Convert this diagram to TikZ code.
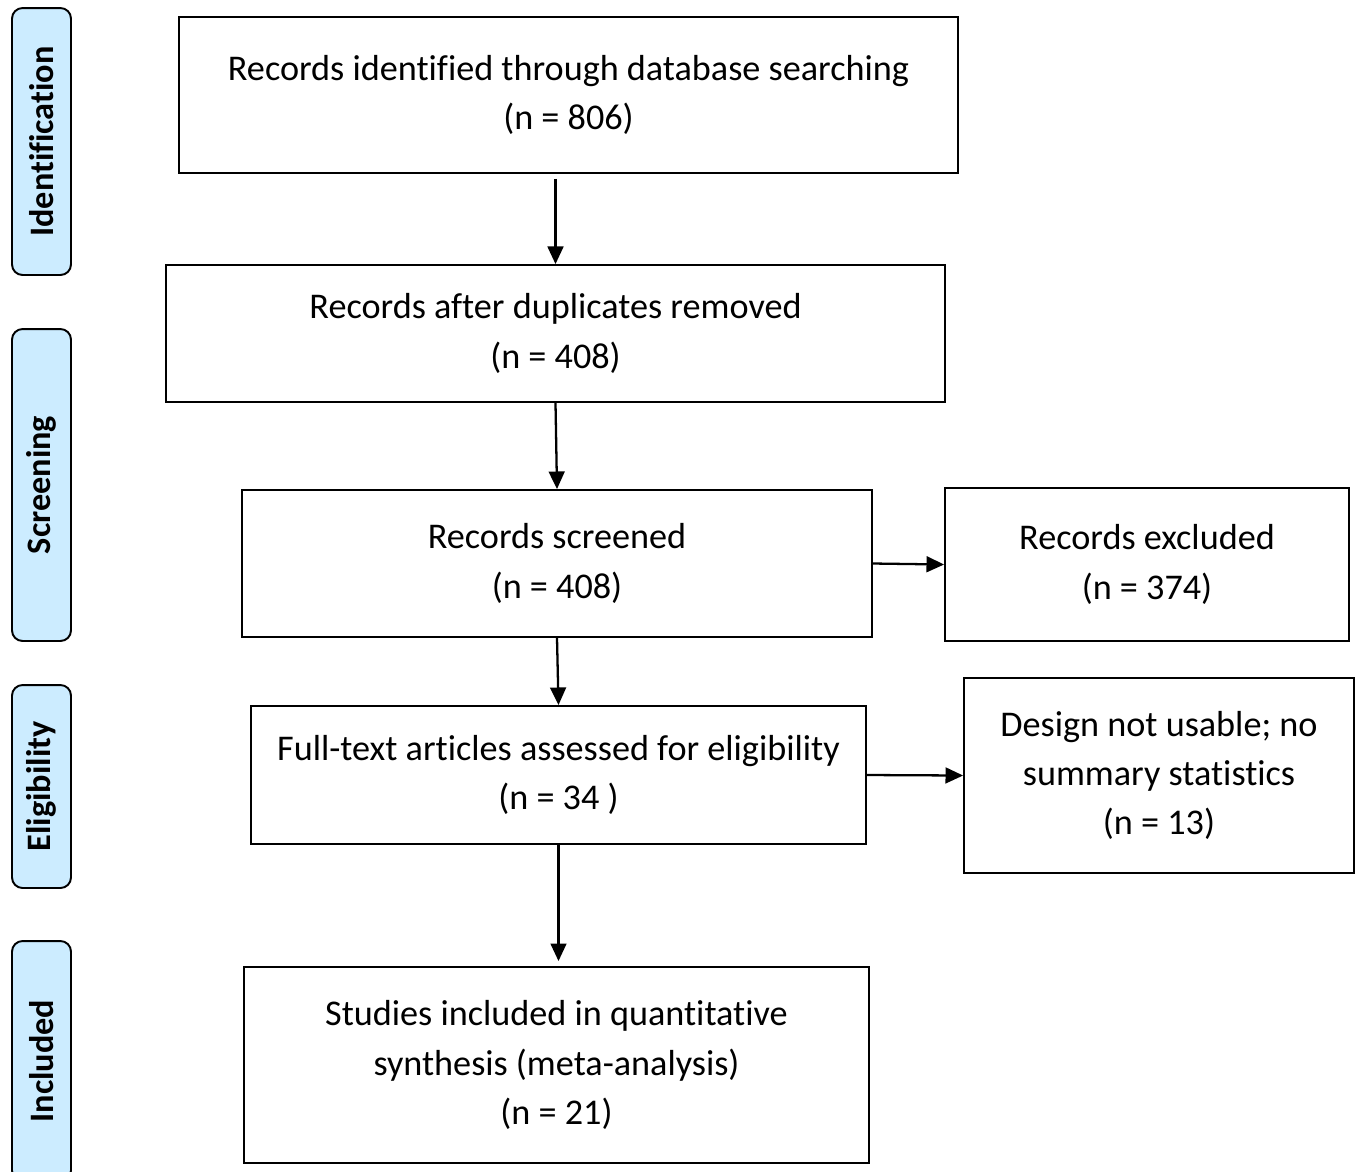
\documentclass[tikz,border=0pt]{standalone}
\usepackage{fontspec}
\setmainfont[Ligatures=NoCommon]{Carlito}
\usetikzlibrary{arrows.meta}

\begin{document}
\begin{tikzpicture}[
            x=0.02cm, y=-0.02cm,
            box/.style={
                draw,
                line width=1.1pt,
                align=center,
                inner sep=0pt,
                font=\fontsize{20.6}{28}\selectfont
            },
            phase/.style={
                draw,
                line width=1.1pt,
                rounded corners=6pt,
                fill=phaseblue,
                minimum height=1.18cm,
                inner sep=0pt,
                rotate=90,
                font=\fontsize{19.5}{22}\selectfont\bfseries
            },
            arrow/.style={-{Triangle[length=10pt,width=9pt]}, line width=1.3pt}
        ]
        \definecolor{phaseblue}{HTML}{CCECFF}
        \useasboundingbox (0,0) rectangle (1358,1171);

        % stage labels on the left
        \node[phase, minimum width=5.34cm] (ident) at (41.5,141.5) {Identification};
        \node[phase, minimum width=6.24cm] (screen) at (41.5,485) {Screening};
        \node[phase, minimum width=4.06cm] (elig) at (41.5,786.5) {Eligibility};
        \node[phase, minimum width=4.8cm] (incl) at (41.5,1061) {Included};

        % main flow
        \node[box, minimum width=15.58cm, minimum height=3.12cm] (found) at (568.5,95)
            {Records identified through database searching\\ (n = 806)};
        \node[box, minimum width=15.58cm, minimum height=2.74cm] (dedup) at (555.5,333.5)
            {Records after duplicates removed\\ (n = 408)};
        \node[box, minimum width=12.6cm, minimum height=2.94cm] (screened) at (557,563.5)
            {Records screened\\ (n = 408)};
        \node[box, minimum width=12.3cm, minimum height=2.76cm] (fulltext) at (558.5,775)
            {Full-text articles assessed for eligibility\\ (n = 34 )};
        \node[box, minimum width=12.5cm, minimum height=3.92cm] (included) at (556.5,1065)
            {Studies included in quantitative\\ synthesis (meta-analysis)\\ (n = 21)};

        % excluded records
        \node[box, minimum width=8.08cm, minimum height=3.06cm] (excluded) at (1147,564.5)
            {Records excluded\\ (n = 374)};
        \node[box, minimum width=7.8cm, minimum height=3.9cm] (unusable) at (1159,775.5)
            {Design not usable; no\\ summary statistics\\ (n = 13)};

        \draw[arrow] ([yshift=-0.1cm]dedup.north |- found.south) -- (dedup.north);
        \draw[arrow] (dedup.south) -- (screened.north);
        \draw[arrow] (screened.south) -- (fulltext.north);
        \draw[arrow] (fulltext.south) -- ([yshift=0.1cm]fulltext.south |- included.north);
        \draw[arrow] (screened.east) -- (excluded.west);
        \draw[arrow] (fulltext.east) -- (unusable.west);

        \end{tikzpicture}
\end{document}
